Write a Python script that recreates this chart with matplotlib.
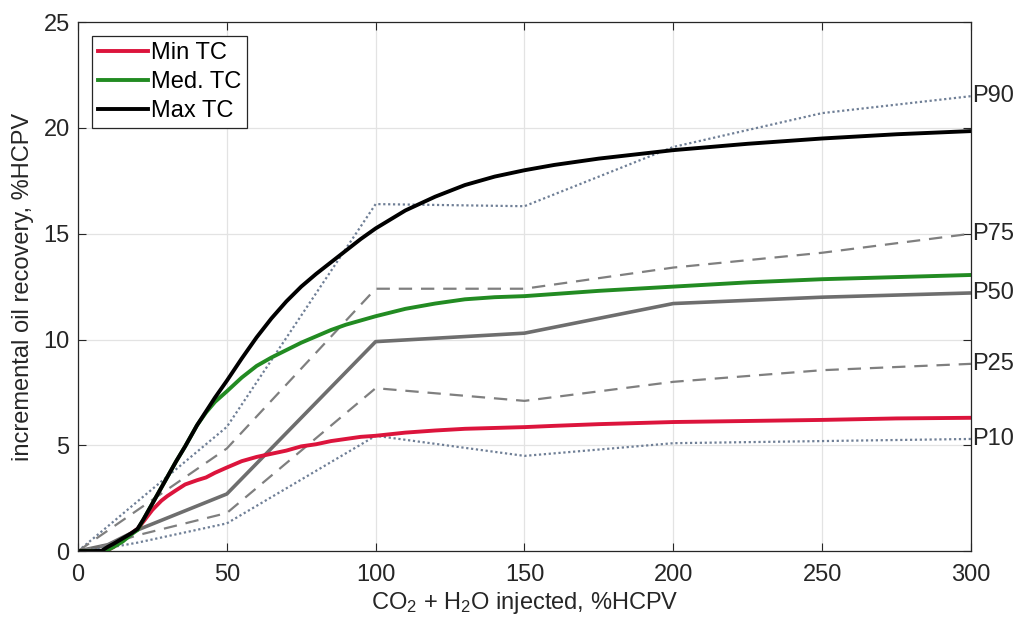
import matplotlib.pyplot as plt

plt.rcParams["font.family"] = ["Liberation Sans", "DejaVu Sans"]
plt.rcParams["mathtext.default"] = "regular"

# smooth type-curve results
curve_x = [0, 5, 8, 10, 12, 15, 18, 20, 22, 25, 28, 30, 33, 36, 40, 43, 46, 50, 55, 60, 65,
           70, 75, 80, 85, 90, 95, 100, 110, 120, 130, 140, 150, 160, 175, 200, 225, 250, 275, 300]
min_tc = [0, 0, 0, 0.05, 0.2, 0.5, 0.85, 1.05, 1.4, 1.95, 2.38, 2.6, 2.88, 3.15, 3.35, 3.48, 3.7,
          3.95, 4.25, 4.45, 4.6, 4.75, 4.95, 5.05, 5.2, 5.3, 5.4, 5.45, 5.6, 5.7, 5.78, 5.82, 5.86,
          5.92, 6.0, 6.1, 6.15, 6.2, 6.27, 6.3]
med_tc = [0, 0, 0, 0.05, 0.2, 0.45, 0.8, 1.0, 1.5, 2.25, 3.0, 3.5, 4.25, 4.95, 5.95, 6.55, 7.05,
          7.55, 8.2, 8.75, 9.15, 9.5, 9.85, 10.15, 10.45, 10.7, 10.9, 11.1, 11.45, 11.7, 11.9, 12.0,
          12.05, 12.15, 12.3, 12.5, 12.7, 12.85, 12.95, 13.05]
max_tc = [0, 0, 0.02, 0.2, 0.35, 0.6, 0.85, 1.05, 1.5, 2.25, 3.0, 3.5, 4.25, 4.95, 5.95, 6.6, 7.25,
          8.05, 9.1, 10.1, 11.0, 11.8, 12.5, 13.1, 13.65, 14.2, 14.75, 15.25, 16.1, 16.75, 17.3, 17.7,
          18.0, 18.25, 18.55, 18.95, 19.25, 19.5, 19.7, 19.85]

# percentile envelopes
pct_x = [0, 10, 20, 50, 100, 150, 200, 250, 300]
p90 = [0, 1.17, 2.35, 5.87, 16.4, 16.3, 19.1, 20.7, 21.5]
p75 = [0, 0.97, 1.94, 4.85, 12.4, 12.4, 13.4, 14.1, 15.0]
p50 = [0, 0.3, 1.0, 2.7, 9.9, 10.3, 11.7, 12.0, 12.2]
p25 = [0, 0.3, 0.75, 1.8, 7.7, 7.1, 8.0, 8.55, 8.85]
p10 = [0, 0.15, 0.4, 1.31, 5.45, 4.5, 5.1, 5.2, 5.3]
pct_labels = ["P90", "P75", "P50", "P25", "P10"]

fig = plt.figure(figsize=(10.17, 6.32), dpi=100)
ax = fig.add_axes([0.0767, 0.128, 0.878, 0.837])

dot_col = "#6f7f96"
dash_col = "#7f7f7f"
dots = (0, (1, 1.2))
dashes = (0, (6, 4))
ax.plot(pct_x, p90, color=dot_col, lw=1.6, ls=dots)
ax.plot(pct_x, p75, color=dash_col, lw=1.6, ls=dashes)
ax.plot(pct_x, p50, color="#6e6e6e", lw=2.6)
ax.plot(pct_x, p25, color=dash_col, lw=1.6, ls=dashes)
ax.plot(pct_x, p10, color=dot_col, lw=1.6, ls=dots)

ax.plot(curve_x, min_tc, color="#dc143c", lw=2.8, label="Min TC")
ax.plot(curve_x, med_tc, color="#228b22", lw=2.8, label="Med. TC")
ax.plot(curve_x, max_tc, color="black", lw=2.8, label="Max TC")

for lab, ser in zip(pct_labels, [p90, p75, p50, p25, p10]):
    ax.annotate(lab, xy=(pct_x[-1], ser[-1]), xytext=(1, 0), textcoords="offset points",
                ha="left", va="center", fontsize=17, color="#262626", annotation_clip=False)

ax.set_xlim(0, 300)
ax.set_ylim(0, 25)
ax.set_xticks([0, 50, 100, 150, 200, 250, 300])
ax.set_yticks([0, 5, 10, 15, 20, 25])
ax.grid(True, color="#e3e3e3", lw=0.9)
ax.set_axisbelow(True)
ax.tick_params(direction="in", top=True, right=True, length=6, width=0.8,
               labelsize=17, colors="#262626")
ax.tick_params(axis="x", pad=9)
ax.tick_params(axis="y", pad=6)
for s in ax.spines.values():
    s.set_color("#262626")
    s.set_linewidth(0.9)

ax.set_xlabel("CO$_2$ + H$_2$O injected, %HCPV", fontsize=17, color="#262626", labelpad=3)
ax.set_ylabel("incremental oil recovery, %HCPV", fontsize=17, color="#262626", labelpad=7)

leg = ax.legend(loc="upper left", fontsize=17, fancybox=False, framealpha=1,
                edgecolor="#262626", handlelength=2.1, handletextpad=0.15,
                borderpad=0.25, labelspacing=0.3, borderaxespad=0.6)
leg.get_frame().set_linewidth(0.9)

fig.savefig("out.png", dpi=100)
